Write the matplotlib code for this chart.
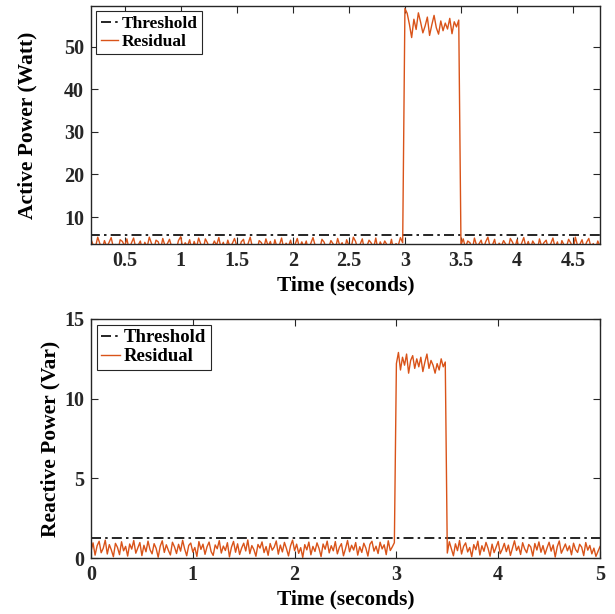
import numpy as np
import matplotlib
matplotlib.use("Agg")
import matplotlib.pyplot as plt

plt.rcParams['font.family'] = ['Liberation Serif', 'DejaVu Serif']
plt.rcParams['font.weight'] = 'bold'

dt = 0.02
threshold_p = 5.8
threshold_q = 1.25

# Active power residual (Watt)
p_pre = [2.5, 3.8, 2.2, 4.6, 3.3, 3.5, 5.0, 2.6, 4.2, 1.9, 4.8, 3.4, 3.0, 5.3, 3.7,
         2.3, 4.5, 3.1, 4.0, 5.2, 2.8, 3.6, 2.1, 4.7, 4.3, 3.2, 4.9, 2.4, 3.9, 5.1,
         2.7, 3.4, 4.4, 2.0, 4.1, 2.9, 5.3, 3.8, 2.5, 4.6, 4.2, 2.3, 5.0, 3.3, 3.7,
         4.8, 3.0, 3.5, 2.2, 4.5, 5.4, 2.6, 4.0, 3.2, 4.7, 2.1, 4.3, 2.8, 5.1, 3.6,
         2.4, 4.9, 3.9, 1.9, 3.1, 4.4, 3.4, 5.2, 2.7, 4.1, 2.3, 4.6, 3.0, 3.8, 5.0,
         3.3, 2.0, 4.2, 4.8, 2.5, 3.7, 5.3, 2.9, 3.5, 2.2, 4.5, 4.0, 2.6, 4.9, 3.2,
         4.3, 2.1, 4.7, 2.8, 3.4, 5.1, 2.4, 3.9, 3.1, 4.6, 2.3, 3.6, 5.0, 2.7, 4.2,
         3.0, 4.4, 1.9, 3.8, 5.2, 3.3, 3.5, 2.5, 4.8, 4.1, 2.2, 2.9, 4.5, 3.7, 2.6,
         5.0, 3.2, 4.0, 2.0, 4.7, 3.4, 2.8, 5.3, 4.3, 2.4, 3.6, 4.9, 2.1, 3.1, 4.6,
         3.9, 2.7, 5.1, 2.3, 4.2, 3.0, 4.4, 3.5, 2.6, 4.8, 1.9, 3.8, 3.3, 5.2, 4.0]
p_fault = [58.9, 57.8, 55.2, 52.1, 56.4, 54.0, 57.9, 55.7, 53.2, 54.8, 56.9, 52.6, 55.1,
           57.3, 54.4, 52.9, 56.0, 53.7, 55.5, 54.1, 56.6, 53.0, 55.8, 54.6, 56.2]
p_post = [3.5, 4.9, 2.8, 4.4, 4.0, 2.2, 5.1, 3.3, 3.7, 4.6, 2.5, 4.2, 5.3, 3.0, 3.4,
          4.8, 2.0, 3.9, 3.2, 4.5, 3.6, 2.4, 5.0, 4.1, 2.7, 4.7, 2.3, 3.8, 5.2, 2.9,
          4.3, 2.6, 4.4, 3.5, 2.1, 4.9, 3.1, 4.0, 4.6, 2.4, 3.7, 5.1, 2.8, 4.2, 1.9,
          4.5, 3.4, 3.0, 4.8, 3.9, 2.2, 5.3, 3.3, 3.6, 4.7, 2.5, 4.1, 5.0, 2.9, 3.8,
          2.3, 4.4, 3.2, 4.9, 3.5, 2.7, 5.2, 4.0, 2.4, 4.6, 3.7, 3.1, 4.8, 2.0, 4.3, 4.5]

# Reactive power residual (Var)
q_pre = [0.42, 0.95, 0.18, 0.77, 1.05, 0.33, 0.61, 1.12, 0.25, 0.84, 0.50, 0.08, 0.92, 0.67, 0.21,
         1.02, 0.45, 0.73, 0.12, 0.88, 0.56, 1.10, 0.30, 0.64, 0.97, 0.15, 0.80, 0.39, 1.06, 0.52,
         0.26, 0.90, 0.60, 0.05, 0.74, 1.08, 0.35, 0.83, 0.48, 0.19, 0.99, 0.70, 0.28, 0.86, 0.43,
         1.11, 0.57, 0.14, 0.79, 0.94, 0.37, 0.66, 0.10, 1.03, 0.54, 0.87, 0.23, 0.71, 1.00, 0.40,
         0.16, 0.82, 0.58, 1.09, 0.31, 0.75, 0.47, 0.96, 0.07, 0.68, 1.04, 0.36, 0.89, 0.22, 0.63,
         0.93, 0.44, 1.13, 0.27, 0.78, 0.53, 0.11, 0.85, 0.62, 1.01, 0.34, 0.72, 0.17, 0.91, 0.49,
         0.69, 1.07, 0.24, 0.81, 0.38, 0.98, 0.59, 0.13, 0.76, 1.12, 0.46, 0.87, 0.29, 0.65, 0.04,
         0.84, 0.51, 1.00, 0.20, 0.73, 0.41, 0.95, 0.60, 0.09, 0.88, 0.55, 1.06, 0.32, 0.77, 0.45,
         1.03, 0.26, 0.67, 0.90, 0.14, 0.58, 1.10, 0.39, 0.80, 0.50, 0.97, 0.18, 0.71, 0.35, 0.93,
         0.62, 0.12, 0.86, 1.05, 0.43, 0.74, 0.28, 0.99, 0.57, 0.83, 0.21, 1.08, 0.47, 0.70, 0.96]
q_fault = [12.2, 12.9, 11.8, 12.6, 12.1, 12.8, 11.6, 12.4, 12.7, 11.9, 12.5, 12.0, 12.6,
           11.7, 12.3, 12.8, 11.9, 12.4, 12.1, 11.6, 12.2, 11.8, 12.5, 12.0, 12.3]
q_post = [0.31, 1.02, 0.58, 0.14, 0.89, 0.46, 1.10, 0.25, 0.73, 0.95, 0.38, 0.66, 0.08, 0.84, 0.52,
          1.06, 0.19, 0.77, 0.42, 0.98, 0.61, 0.11, 0.87, 0.34, 0.70, 1.04, 0.27, 0.55, 0.92, 0.40,
          0.81, 0.16, 0.63, 1.08, 0.47, 0.74, 0.22, 0.96, 0.57, 0.33, 0.85, 0.69, 0.12, 0.91, 0.50,
          1.01, 0.36, 0.78, 0.24, 0.64, 0.99, 0.43, 0.82, 0.06, 0.71, 1.07, 0.30, 0.59, 0.88, 0.45,
          0.76, 0.20, 0.93, 0.53, 0.35, 0.86, 0.68, 0.15, 0.97, 0.49, 0.79, 0.26, 0.62, 0.10, 0.41, 0.72]

p_res = np.array(p_pre + p_fault + p_post)
q_res = np.array(q_pre + q_fault + q_post)
t = np.arange(len(p_res)) * dt

top_xticks = [0.5, 1, 1.5, 2, 2.5, 3, 3.5, 4, 4.5]
top_xticklabels = ['0.5', '1', '1.5', '2', '2.5', '3', '3.5', '4', '4.5']
top_yticks = [10, 20, 30, 40, 50]
bot_xticks = [0, 1, 2, 3, 4, 5]
bot_yticks = [0, 5, 10, 15]

RES_COLOR = '#D95319'
TICK_FS = 14.5
LABEL_FS = 15.5

W, H = 615, 614
fig = plt.figure(figsize=(W / 100, H / 100), dpi=100)

def add_ax(l, r, t_, b):
    return fig.add_axes([l / W, 1 - b / H, (r - l) / W, (b - t_) / H])

ax1 = add_ax(91, 600, 6, 244)
ax2 = add_ax(91, 600, 319, 558)

def style(ax):
    for s in ax.spines.values():
        s.set_color('#262626')
        s.set_linewidth(1.0)
    ax.tick_params(direction='in', top=True, right=True, length=5, width=0.8,
                   colors='#262626', labelsize=TICK_FS, labelcolor='#262626', pad=5)

for ax, res, thr, lfs in [(ax1, p_res, threshold_p, 12.5), (ax2, q_res, threshold_q, 13.5)]:
    ax.plot(t, np.full_like(t, thr), color='black', linestyle='-.', linewidth=1.2,
            dashes=(6, 2.5, 1.5, 2.5), label='Threshold')
    ax.plot(t, res, color=RES_COLOR, linewidth=1.0, label='Residual')
    style(ax)
    ax.set_xlabel('Time (seconds)', fontsize=LABEL_FS, fontweight='bold', labelpad=3)
    leg = ax.legend(loc='upper left', fontsize=lfs, handlelength=1.0, handletextpad=0.2,
                    borderpad=0.25, labelspacing=0.1, borderaxespad=0.3,
                    fancybox=False, framealpha=1)
    leg.get_frame().set_edgecolor('#262626')
    leg.get_frame().set_linewidth(0.8)
    for txt in leg.get_texts():
        txt.set_fontweight('bold')

ax1.set_xlim(0.2, 4.74)
ax1.set_ylim(3.7, 59.5)
ax1.set_xticks(top_xticks)
ax1.set_xticklabels(top_xticklabels)
ax1.set_yticks(top_yticks)
ax1.set_ylabel('Active Power (Watt)', fontsize=LABEL_FS, fontweight='bold')
ax1.yaxis.set_label_coords(-0.106, 0.5)

ax2.set_xlim(0, 5)
ax2.set_ylim(0, 15)
ax2.set_xticks(bot_xticks)
ax2.set_yticks(bot_yticks)
ax2.set_ylabel('Reactive Power (Var)', fontsize=LABEL_FS, fontweight='bold')
ax2.yaxis.set_label_coords(-0.059, 0.5)

for ax in (ax1, ax2):
    for lab in ax.get_xticklabels() + ax.get_yticklabels():
        lab.set_fontweight('bold')

fig.savefig('out.png', dpi=100)
